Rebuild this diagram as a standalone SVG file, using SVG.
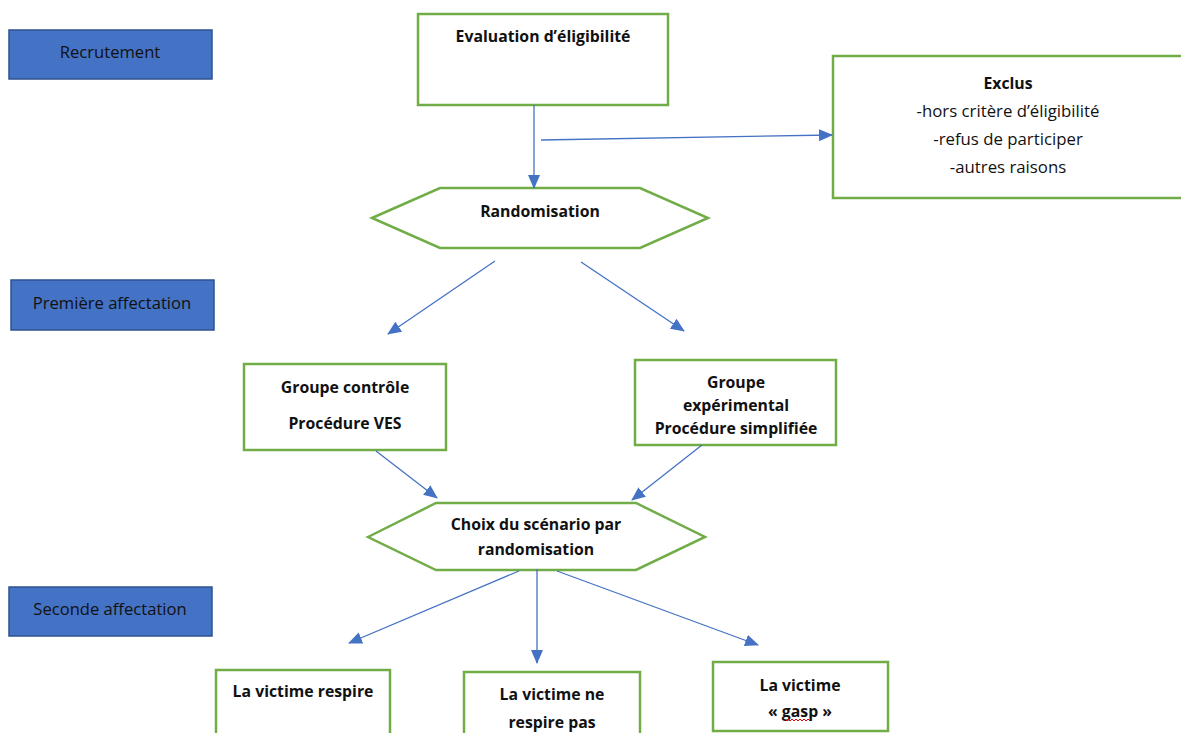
<svg xmlns="http://www.w3.org/2000/svg" width="1181" height="733" viewBox="0 0 1181 733">
<defs>
<marker id="ah" markerWidth="14" markerHeight="12" refX="13" refY="6" orient="auto" markerUnits="userSpaceOnUse">
<path d="M0,0 L14,6 L0,12 Z" fill="#4472C4"/>
</marker>
<style>
.lbl{fill:#4472C4;stroke:#2F528F;stroke-width:1.5}
.lt{font-family:"Open Sans",Lato,sans-serif;font-size:16.6px;fill:#111;text-anchor:middle}
.box{fill:#fff;stroke:#70AD47;stroke-width:2.5}
.bt{font-family:"Open Sans",Lato,sans-serif;font-size:15.8px;font-weight:bold;fill:#111;text-anchor:middle}
.nt{font-family:"Open Sans",Lato,sans-serif;font-size:16.8px;fill:#111;text-anchor:middle}
.c{stroke:#4472C4;stroke-width:1.3;fill:none;marker-end:url(#ah)}
</style>
</defs>
<rect width="1181" height="733" fill="#fff"/>
<g id="recrutement"><rect class="lbl" x="9" y="30" width="203" height="49"/><text class="lt" x="110" y="58">Recrutement</text></g>
<g id="premiere"><rect class="lbl" x="11" y="280" width="203" height="50"/><text class="lt" x="112" y="309">Première affectation</text></g>
<g id="seconde"><rect class="lbl" x="9" y="587" width="203" height="49"/><text class="lt" x="110" y="615">Seconde affectation</text></g>

<g id="evaluation"><rect class="box" x="418" y="14" width="250" height="91"/><text class="bt" x="543" y="42">Evaluation d’éligibilité</text></g>
<g id="exclus"><rect class="box" x="833" y="56" width="352" height="142"/>
<text class="bt" x="1008" y="89">Exclus</text>
<text class="nt" x="1008" y="117">-hors critère d’éligibilité</text>
<text class="nt" x="1008" y="145">-refus de participer</text>
<text class="nt" x="1008" y="173">-autres raisons</text></g>
<g id="randomisation"><polygon class="box" points="372,218 440,188 640,188 708,218 640,248 440,248"/><text class="bt" x="540" y="217">Randomisation</text></g>
<g id="controle"><rect class="box" x="244" y="364" width="202" height="86"/><text class="bt" x="345" y="393">Groupe contrôle</text><text class="bt" x="345" y="429">Procédure VES</text></g>
<g id="experimental"><rect class="box" x="635" y="360" width="201" height="85"/><text class="bt" x="736" y="388">Groupe</text><text class="bt" x="736" y="411">expérimental</text><text class="bt" x="736" y="434">Procédure simplifiée</text></g>
<g id="choix"><polygon class="box" points="368,537 436,503 636,503 705,537 636,570 436,570"/><text class="bt" x="536" y="530">Choix du scénario par</text><text class="bt" x="536" y="555">randomisation</text></g>
<g id="respire"><rect class="box" x="216" y="670" width="174" height="70"/><text class="bt" x="303" y="697">La victime respire</text></g>
<g id="nerespire"><rect class="box" x="464" y="672" width="176" height="70"/><text class="bt" x="552" y="700">La victime ne</text><text class="bt" x="552" y="728">respire pas</text></g>
<g id="gasp"><rect class="box" x="713" y="662" width="175" height="69"/><text class="bt" x="800" y="691">La victime</text><text class="bt" x="800" y="717">« gasp »</text>
<path d="M786,721 l2,-2 l2,2 l2,-2 l2,2 l2,-2 l2,2 l2,-2 l2,2 l2,-2 l2,2 l2,-2 l2,2" stroke="#e00" stroke-width="1" fill="none"/></g>

<g id="connectors">
<line class="c" x1="534" y1="105" x2="534" y2="188"/>
<line class="c" x1="541" y1="140" x2="832" y2="135"/>
<line class="c" x1="495" y1="261" x2="388" y2="334"/>
<line class="c" x1="581" y1="262" x2="684" y2="331"/>
<line class="c" x1="376" y1="451" x2="437" y2="498"/>
<line class="c" x1="702" y1="445" x2="632" y2="500"/>
<line class="c" x1="519" y1="571" x2="349" y2="643"/>
<line class="c" x1="537" y1="569" x2="537" y2="663"/>
<line class="c" x1="557" y1="571" x2="758" y2="645"/>
</g>
</svg>
